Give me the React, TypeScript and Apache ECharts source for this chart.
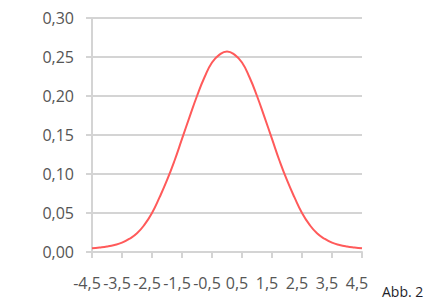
import React, { useEffect, useRef } from "react";
import * as echarts from "echarts";

const xValues: number[] = [
  -4.5, -4.25, -4, -3.75, -3.5, -3.25, -3, -2.75, -2.5, -2.25, -2, -1.75, -1.5,
  -1.25, -1, -0.75, -0.5, -0.25, 0, 0.25, 0.5, 0.75, 1, 1.25, 1.5, 1.75, 2,
  2.25, 2.5, 2.75, 3, 3.25, 3.5, 3.75, 4, 4.25, 4.5,
];

const yValues: number[] = [
  0.0047, 0.0057, 0.007, 0.009, 0.012, 0.017, 0.024, 0.035, 0.05, 0.07, 0.092,
  0.117, 0.145, 0.173, 0.2, 0.224, 0.243, 0.253, 0.257, 0.253, 0.243, 0.224,
  0.2, 0.173, 0.145, 0.117, 0.092, 0.07, 0.05, 0.035, 0.024, 0.017, 0.012,
  0.009, 0.007, 0.0057, 0.0047,
];

const yMin = 0;
const yMax = 0.3;
const yStep = 0.05;
const caption = "Abb. 2";

const fmt = (v: number, d: number) => v.toFixed(d).replace(".", ",");

export default function App() {
  const ref = useRef<HTMLDivElement>(null);
  useEffect(() => {
    if (!ref.current) return;
    const chart = echarts.init(ref.current, null, { renderer: "svg" });
    const grey = "#555555";
    const lineGrey = "#d4d4d4";
    chart.setOption({
      animation: false,
      backgroundColor: "#ffffff",
      grid: { left: 92, right: 73, top: 18, bottom: 50 },
      xAxis: {
        type: "category",
        data: xValues.map((v) => String(v)),
        boundaryGap: false,
        axisLine: { show: true, lineStyle: { color: lineGrey, width: 2 } },
        axisTick: {
          show: true,
          interval: 3,
          length: 6,
          lineStyle: { color: lineGrey, width: 2 },
        },
        axisLabel: {
          interval: 3,
          margin: 23,
          color: grey,
          fontSize: 16,
          fontFamily: "Open Sans",
          padding: [0, 10, 0, 0],
          formatter: (v: string) => fmt(Number(v), 1),
        },
        splitLine: { show: false },
      },
      yAxis: {
        type: "value",
        min: yMin,
        max: yMax,
        interval: yStep,
        axisLine: { show: true, lineStyle: { color: lineGrey, width: 2 } },
        axisTick: {
          show: true,
          length: 6,
          lineStyle: { color: lineGrey, width: 2 },
        },
        axisLabel: {
          margin: 18,
          color: grey,
          fontSize: 16,
          fontFamily: "Open Sans",
          formatter: (v: number) => fmt(v, 2),
        },
        splitLine: { show: true, lineStyle: { color: lineGrey, width: 2 } },
      },
      series: [
        {
          type: "line",
          data: yValues,
          smooth: true,
          showSymbol: false,
          lineStyle: { color: "#ff5a5a", width: 2 },
        },
      ],
      graphic: [
        {
          type: "text",
          left: 382,
          top: 284,
          style: {
            text: caption,
            fontSize: 14,
            fontFamily: "Open Sans",
            fill: "#1e1e2a",
          },
        },
      ],
    });
    return () => chart.dispose();
  }, []);
  return (
    <div
      ref={ref}
      style={{ position: "fixed", left: 0, top: 0, width: 435, height: 302 }}
    />
  );
}
